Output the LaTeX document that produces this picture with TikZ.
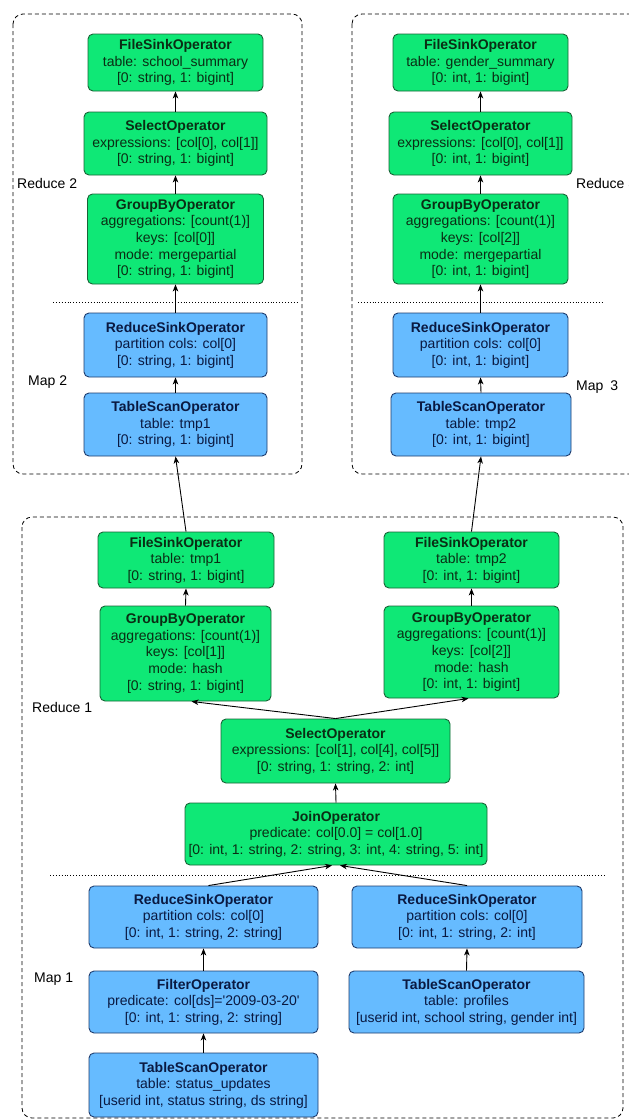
\documentclass[tikz,border=0pt]{standalone}
\usepackage{fontspec}
\setmainfont{Liberation Sans}
\usetikzlibrary{arrows.meta,calc}
\definecolor{gfill}{RGB}{15,232,118}
\definecolor{gdraw}{RGB}{25,100,55}
\definecolor{bfill}{RGB}{102,187,255}
\definecolor{bdraw}{RGB}{30,60,110}
\definecolor{gtext}{RGB}{10,45,20}
\definecolor{btext}{RGB}{10,25,65}
\begin{document}
\begin{tikzpicture}[x=1pt,y=-1pt,
 op/.style={rectangle,rounded corners=5pt,line width=0.9pt,align=center,inner sep=0pt,font=\fontsize{14}{16.6}\selectfont},
 gop/.style={op,fill=gfill,draw=gdraw,text=gtext},
 bop/.style={op,fill=bfill,draw=bdraw,text=btext},
 arr/.style={-{Stealth[length=7pt,width=5.5pt,inset=2pt]},line width=0.9pt},
 stage/.style={rounded corners=10pt,line width=0.8pt,dash pattern=on 4pt off 3pt},
 sepline/.style={dotted,line width=0.9pt},
 lbl/.style={anchor=west,font=\fontsize{14}{16.6}\selectfont,inner sep=0pt}]
\useasboundingbox (0,0) rectangle (629,1119);
\fill[white] (0,0) rectangle (629,1119);

% stage boxes
\draw[stage] (13,14) rectangle (302,474);
\draw[stage] (352,14) rectangle (680,474);
\draw[stage] (22,517) rectangle (623,1118);

% separators
\draw[sepline] (53,302) -- (298,302);
\draw[sepline] (358,302) -- (602,302);
\draw[sepline] (50,875) -- (606,875);

% labels
\node[lbl] (lr2) at (17,183) {Reduce 2};
\node[lbl] (lm2) at (28,382) {Map 2};
\node[lbl] (lr3) at (576,183) {Reduce 3};
\node[lbl] (lm3) at (576,387) {Map\hspace{7pt}3};
\node[lbl] (lr1) at (32,707) {Reduce 1};
\node[lbl] (lm1) at (34,979) {Map 1};

% Reduce 2 / Map 2
\node[gop,minimum width=175pt,minimum height=57pt] (fs2) at (175.5,62.5) {\textbf{FileSinkOperator}\\table: school\_summary\\{}[0: string, 1: bigint]};
\node[gop,minimum width=183pt,minimum height=63pt] (sel2) at (175.5,143.5) {\textbf{SelectOperator}\\expressions: [col[0], col[1]]\\{}[0: string, 1: bigint]};
\node[gop,minimum width=176pt,minimum height=90pt] (gb2) at (175.5,239) {\textbf{GroupByOperator}\\aggregations: [count(1)]\\keys: [col[0]]\\mode: mergepartial\\{}[0: string, 1: bigint]};
\node[bop,minimum width=183pt,minimum height=64pt] (rs2) at (175.5,345) {\textbf{ReduceSinkOperator}\\partition cols: col[0]\\{}[0: string, 1: bigint]};
\node[bop,minimum width=183pt,minimum height=63pt] (ts2) at (175.5,424.5) {\textbf{TableScanOperator}\\table: tmp1\\{}[0: string, 1: bigint]};

% Reduce 3 / Map 3
\node[gop,minimum width=175pt,minimum height=57pt] (fs3) at (480.5,62.5) {\textbf{FileSinkOperator}\\table: gender\_summary\\{}[0: int, 1: bigint]};
\node[gop,minimum width=183pt,minimum height=63pt] (sel3) at (480.5,143.5) {\textbf{SelectOperator}\\expressions: [col[0], col[1]]\\{}[0: int, 1: bigint]};
\node[gop,minimum width=175pt,minimum height=90pt] (gb3) at (480.5,239) {\textbf{GroupByOperator}\\aggregations: [count(1)]\\keys: [col[2]]\\mode: mergepartial\\{}[0: int, 1: bigint]};
\node[bop,minimum width=175pt,minimum height=64pt] (rs3) at (480.5,345) {\textbf{ReduceSinkOperator}\\partition cols: col[0]\\{}[0: int, 1: bigint]};
\node[bop,minimum width=180pt,minimum height=63pt] (ts3) at (481,424.5) {\textbf{TableScanOperator}\\table: tmp2\\{}[0: int, 1: bigint]};

% Reduce 1
\node[gop,minimum width=176pt,minimum height=56pt] (fsA) at (186,560) {\textbf{FileSinkOperator}\\table: tmp1\\{}[0: string, 1: bigint]};
\node[gop,minimum width=175pt,minimum height=56pt] (fsB) at (471.5,560) {\textbf{FileSinkOperator}\\table: tmp2\\{}[0: int, 1: bigint]};
\node[gop,minimum width=171pt,minimum height=95pt] (gbA) at (185.5,653.5) {\textbf{GroupByOperator}\\aggregations: [count(1)]\\keys: [col[1]]\\mode: hash\\{}[0: string, 1: bigint]};
\node[gop,minimum width=175pt,minimum height=92pt] (gbB) at (471.5,652) {\textbf{GroupByOperator}\\aggregations: [count(1)]\\keys: [col[2]]\\mode: hash\\{}[0: int, 1: bigint]};
\node[gop,minimum width=229pt,minimum height=64pt] (sel1) at (335.5,751) {\textbf{SelectOperator}\\expressions: [col[1], col[4], col[5]]\\{}[0: string, 1: string, 2: int]};
\node[gop,minimum width=302pt,minimum height=62pt] (join) at (336,834) {\textbf{JoinOperator}\\predicate: col[0.0] = col[1.0]\\{}[0: int, 1: string, 2: string, 3: int, 4: string, 5: int]};

% Map 1
\node[bop,minimum width=229pt,minimum height=62pt] (rsA) at (203.5,917) {\textbf{ReduceSinkOperator}\\partition cols: col[0]\\{}[0: int, 1: string, 2: string]};
\node[bop,minimum width=230pt,minimum height=62pt] (rsB) at (467,917) {\textbf{ReduceSinkOperator}\\partition cols: col[0]\\{}[0: int, 1: string, 2: int]};
\node[bop,minimum width=229pt,minimum height=62pt] (filt) at (203.5,1002) {\textbf{FilterOperator}\\predicate: col[ds]=\textquotesingle2009-03-20\textquotesingle\\{}[0: int, 1: string, 2: string]};
\node[bop,minimum width=235pt,minimum height=62pt] (tsP) at (466.5,1002) {\textbf{TableScanOperator}\\table: profiles\\{}[userid int, school string, gender int]};
\node[bop,minimum width=229pt,minimum height=64pt] (tsS) at (203.5,1085) {\textbf{TableScanOperator}\\table: status\_updates\\{}[userid int, status string, ds string]};

% connectors
\draw[arr] (sel2.north) -- (fs2.south);
\draw[arr] (gb2.north) -- (sel2.south);
\draw[arr] (rs2.north) -- (gb2.south);
\draw[arr] (ts2.north) -- (rs2.south);
\draw[arr] (sel3.north) -- (fs3.south);
\draw[arr] (gb3.north) -- (sel3.south);
\draw[arr] (rs3.north) -- (gb3.south);
\draw[arr] (ts3.north) -- (rs3.south);
\draw[arr] (fsA.north) -- (ts2.south);
\draw[arr] (fsB.north) -- (ts3.south);
\draw[arr] (gbA.north) -- (fsA.south);
\draw[arr] (gbB.north) -- (fsB.south);
\draw[arr] (sel1.north) -- ([xshift=6pt]gbA.south);
\draw[arr] (sel1.north) -- ([xshift=-3pt]gbB.south);
\draw[arr] (join.north) -- (sel1.south);
\draw[arr] ([xshift=5pt]rsA.north) -- ([xshift=-4pt]join.south);
\draw[arr] (rsB.north) -- ([xshift=4pt]join.south);
\draw[arr] (filt.north) -- (rsA.south);
\draw[arr] (tsS.north) -- (filt.south);
\draw[arr] (tsP.north) -- (rsB.south);
\end{tikzpicture}
\end{document}
